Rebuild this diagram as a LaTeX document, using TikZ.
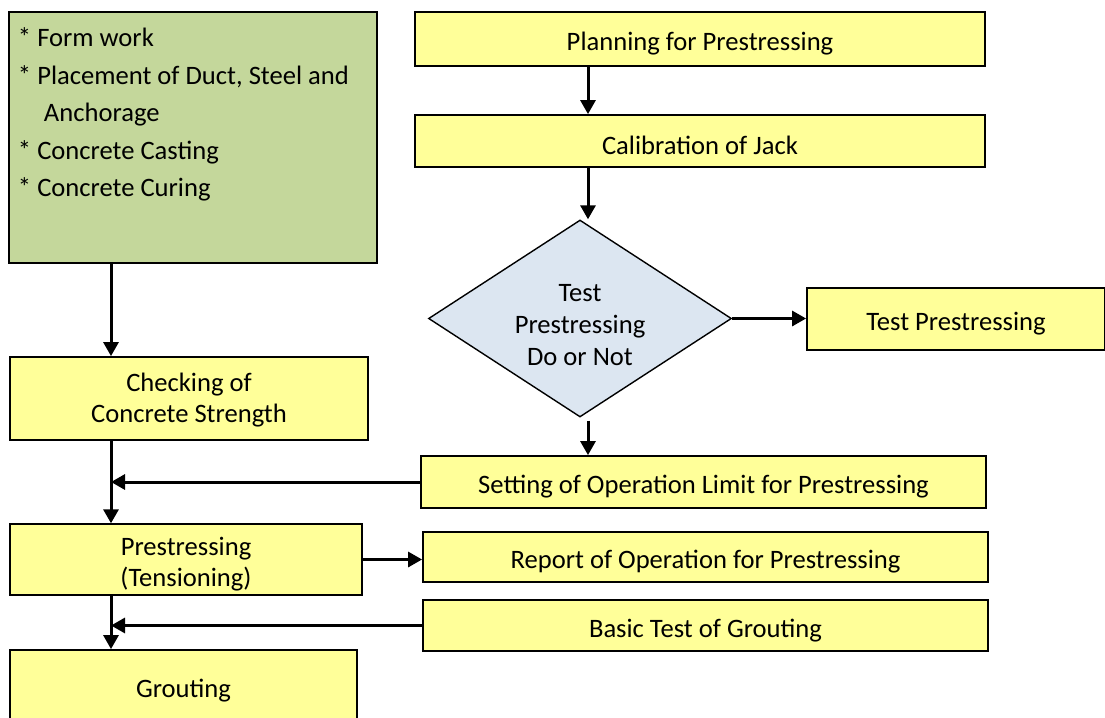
\documentclass[tikz,border=0pt]{standalone}
\usepackage{fontspec}
\setmainfont{Carlito}
\usepackage{tikz}
\usetikzlibrary{positioning, arrows.meta, shapes.geometric, calc}

\definecolor{stepyellow}{HTML}{FFFF99}
\definecolor{workgreen}{HTML}{C4D79B}
\definecolor{decideblue}{HTML}{DCE6F1}

\begin{document}
\begin{tikzpicture}[
                x=0.5pt, y=-0.5pt,
                box/.style={draw, line width=0.9pt, fill=stepyellow, minimum width=282.5pt, minimum height=26pt, align=center, inner sep=2pt, font=\fontsize{13.3}{15.5}\selectfont, execute at begin node=\rule{0pt}{14pt}},
                leftbox/.style={box, minimum width=176pt, minimum height=34.5pt, execute at begin node=\rule{0pt}{29pt}},
                workbox/.style={draw, line width=0.9pt, fill=workgreen, inner xsep=4.5pt, inner ysep=0pt, font=\fontsize{13.3}{18.75}\selectfont},
                decide/.style={diamond, draw, line width=0.7pt, fill=decideblue, aspect=1.54, inner sep=0pt, minimum width=151.5pt, minimum height=98.5pt, align=center, font=\fontsize{13.3}{16}\selectfont, execute at begin node=\rule{0pt}{47pt}},
                arr/.style={-{Triangle[length=7pt, width=7.5pt]}, line width=1.5pt},
            ]
            \path[use as bounding box, clip] (0,0) rectangle (1105,718);

            % Site works box on the left:
            \node[workbox] (work) at (193,137.5) {\parbox[c][125.5pt][t]{175pt}{\vspace*{8pt}%
                {}* Form work\\
                {}* Placement of Duct, Steel and\\
                \hspace*{13pt}Anchorage\\
                {}* Concrete Casting\\
                {}* Concrete Curing}};

            % Preparation column on the right:
            \node[box, minimum width=285pt, minimum height=27pt] (plan)  at (700,39)  {Planning for Prestressing};
            \node[box, minimum width=285pt] (calib) at (700,141) {Calibration of Jack};
            \node[decide] (test) at (580,318.5) {Test\\Prestressing\\Do or Not};
            \node[box, minimum width=149pt, minimum height=31pt] (testp) at (956,319) {Test Prestressing};
            \node[box] (setlim) at (703.5,482)  {Setting of Operation Limit for Prestressing};
            \node[box, minimum height=25pt] (report) at (705.5,557)  {Report of Operation for Prestressing};
            \node[box, minimum height=25.5pt] (basic)  at (705.5,625.5) {Basic Test of Grouting};

            % Main sequence on the left:
            \node[box, minimum width=179pt, minimum height=41.5pt, execute at begin node=\rule{0pt}{26.5pt}] (check) at (189,398.5) {Checking of\\Concrete Strength};
            \node[leftbox] (prestr) at (186,559.5) {Prestressing\\(Tensioning)};
            \node[box, minimum width=173.5pt, minimum height=36pt] (grout) at (183.5,686) {Grouting};

            % Arrow columns:
            \coordinate (rspine) at (588,0);
            \coordinate (lspine) at (111,0);

            \draw[arr] (plan.south -| rspine) -- (calib.north -| rspine);
            \draw[arr] (calib.south -| rspine) -- (test.north -| rspine);
            \draw[arr] (test.east) -- (testp.west |- test.east);
            \draw[arr] ($(test.south -| rspine)+(0,3)$) -- (setlim.north -| rspine);

            \draw[arr] (work.south -| lspine) -- (check.north -| lspine);
            \draw[arr] (check.south -| lspine) -- (prestr.north -| lspine);
            \draw[arr] (setlim.west) -- (setlim.west -| lspine);
            \draw[arr] (prestr.east) -- (report.west |- prestr.east);
            \draw[arr] (prestr.south -| lspine) -- (grout.north -| lspine);
            \draw[arr] (basic.west) -- (basic.west -| lspine);
        \end{tikzpicture}
\end{document}
